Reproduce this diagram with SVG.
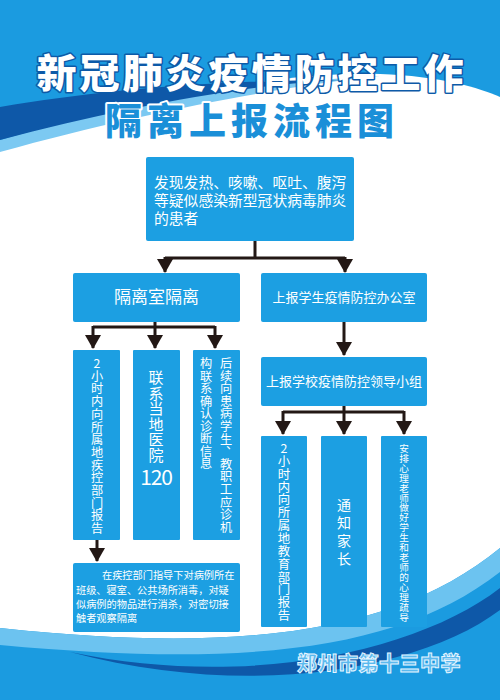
<svg xmlns="http://www.w3.org/2000/svg" width="500" height="700" viewBox="0 0 500 700">
<defs>
<style>
.box{fill:#1c9fe2;}
.t{font-family:"Noto Sans CJK SC","Noto Sans",sans-serif;fill:#ffffff;}
.v{font-family:"Noto Sans CJK SC","Noto Sans",sans-serif;fill:#ffffff;text-anchor:middle;}
.ln{fill:none;stroke:#231815;stroke-width:3;}
.ar{fill:none;stroke:#231815;stroke-width:3;marker-end:url(#ah);}
</style>
<marker id="ah" markerUnits="userSpaceOnUse" viewBox="0 -8 14 16" refX="13" refY="0" markerWidth="14" markerHeight="16" orient="auto">
<path d="M0,-8 L14,0 L0,8 Z" fill="#231815"/>
</marker>
</defs>

<g id="background">
<rect x="0" y="0" width="500" height="700" fill="#1b9be0"/>
<path d="M0,150 C120,110 260,70 380,74 C440,76 480,88 500,97 L500,548 C400,630 250,655 0,628 Z" fill="#ffffff"/>
<path d="M0,140 C120,105 250,82 380,76 C300,84 150,110 0,152 Z" fill="#7cc9f2"/>
<path d="M0,107 C100,90 220,80 340,80 C250,84 120,108 0,140 Z" fill="#0e58a8"/>
<path d="M0,628 C250,655 400,630 500,548 L500,572 C400,650 250,668 0,645 Z" fill="#6cc3f0"/>
<path d="M70,652 C250,690 420,650 500,588 L500,610 C420,670 250,700 70,652 Z" fill="#0e58a8"/>
</g>

<g id="title">
<text x="251.5" y="88" text-anchor="middle" font-family="Noto Sans CJK SC,sans-serif" font-weight="900" font-size="40" letter-spacing="3" fill="#ffffff" stroke="#0d5aa8" stroke-width="3" paint-order="stroke" stroke-linejoin="round">新冠肺炎疫情防控工作</text>
<text x="252" y="135" text-anchor="middle" font-family="Noto Sans CJK SC,sans-serif" font-weight="900" font-size="37" letter-spacing="5" fill="#1a8fd8" stroke="#ffffff" stroke-width="4" paint-order="stroke" stroke-linejoin="round">隔离上报流程图</text>
</g>

<g id="n-patient">
<rect class="box" x="146" y="157" width="208" height="84" rx="2"/>
<text class="t" font-size="14.8" x="154" y="188">发现发热、咳嗽、呕吐、腹泻</text>
<text class="t" font-size="14.8" x="154" y="206">等疑似感染新型冠状病毒肺炎</text>
<text class="t" font-size="14.8" x="154" y="224">的患者</text>
</g>

<g id="n-isolation">
<rect class="box" x="73" y="273" width="167" height="49" rx="2"/>
<text class="t" font-size="17" x="156.5" y="303" text-anchor="middle">隔离室隔离</text>
</g>

<g id="n-office">
<rect class="box" x="261" y="273" width="166" height="49" rx="2"/>
<text class="t" font-size="13" x="344" y="302" text-anchor="middle">上报学生疫情防控办公室</text>
</g>

<g id="n-leader">
<rect class="box" x="261" y="357" width="166" height="49" rx="2"/>
<text class="t" font-size="13" x="344" y="386" text-anchor="middle">上报学校疫情防控领导小组</text>
</g>

<g id="n-cdc">
<rect class="box" x="73" y="350" width="47" height="190" rx="1"/>
<text class="v" font-size="12.2" x="97 97 97 97 97 97 97 97 97 97 97 97 97 97" y="368 380.7 393.4 406.1 418.8 431.5 444.2 456.9 469.6 482.3 495 507.7 520.4 533.1">2小时内向所属地疾控部门报告</text>
</g>

<g id="n-hospital">
<rect class="box" x="133" y="350" width="47" height="190" rx="1"/>
<text class="v" font-size="15" x="156 156 156 156 156 156" y="383 398.6 414.2 429.8 445.4 461">联系当地医院</text>
<text class="t" font-size="21" letter-spacing="-1.2" x="156" y="485" text-anchor="middle">120</text>
</g>

<g id="n-followup">
<rect class="box" x="193" y="350" width="47" height="190" rx="1"/>
<text class="v" font-size="12.2" x="226 226 226 226 226 226 226 232 226 226 226 226 226 226" y="368 380.6 393.2 405.8 418.4 431 443.6 449 468.8 481.4 494 506.6 519.2 531.8">后续向患病学生、教职工应诊机</text>
<text class="v" font-size="12.2" x="206 206 206 206 206 206 206 206 206" y="368 380.5 393 405.5 418 430.5 443 455.5 468">构联系确认诊断信息</text>
</g>

<g id="n-disinfect">
<rect class="box" x="73" y="563" width="167" height="69" rx="2"/>
<text class="t" font-size="10.2" x="102" y="579">在疾控部门指导下对病例所在</text>
<text class="t" font-size="10.2" x="76" y="594">班级、寝室、公共场所消毒，对疑</text>
<text class="t" font-size="10.2" x="76" y="608">似病例的物品进行消杀，对密切接</text>
<text class="t" font-size="10.2" x="76" y="622">触者观察隔离</text>
</g>

<g id="n-edu">
<rect class="box" x="261" y="436" width="46" height="191" rx="1"/>
<text class="v" font-size="12.4" x="284 284 284 284 284 284 284 284 284 284 284 284 284 284" y="453 465.85 478.7 491.55 504.4 517.25 530.1 542.95 555.8 568.65 581.5 594.35 607.2 620.05">2小时内向所属地教育部门报告</text>
</g>

<g id="n-parents">
<rect class="box" x="321" y="436" width="46" height="191" rx="1"/>
<text class="v" font-size="14" x="344 344 344 344" y="510 528 546 563.5">通知家长</text>
</g>

<g id="n-psych">
<rect class="box" x="381" y="436" width="46" height="191" rx="1"/>
<text class="v" font-size="9.6" x="404 404 404 404 404 404 404 404 404 404 404 404 404 404 404 404 404 404" y="451.8 461.7 471.7 481.6 491.6 501.5 511.4 521.4 531.3 541.3 551.2 561.1 571.1 581 591 600.9 610.8 620.8">安排心理老师做好学生和老师的心理疏导</text>
</g>

<g id="connectors">
<path class="ln" d="M255,241 V258 M165,258 H345"/>
<path class="ar" d="M165,257 V272"/>
<path class="ar" d="M345,257 V272"/>
<path class="ln" d="M155,322 V327 M93,327 H215"/>
<path class="ar" d="M93,326 V348"/>
<path class="ar" d="M155,326 V348"/>
<path class="ar" d="M215,326 V348"/>
<path class="ar" d="M97,540 V561"/>
<path class="ar" d="M344,322 V355"/>
<path class="ln" d="M344,406 V412 M283,412 H404"/>
<path class="ar" d="M283,411 V434"/>
<path class="ar" d="M344,411 V434"/>
<path class="ar" d="M404,411 V434"/>
</g>

<g id="footer">
<text x="379" y="671" text-anchor="middle" font-family="Noto Sans CJK SC,sans-serif" font-weight="900" font-size="20" letter-spacing="0.5" fill="#5ab9ee" stroke="#e6f5ff" stroke-width="1">郑州市第十三中学</text>
</g>
</svg>
